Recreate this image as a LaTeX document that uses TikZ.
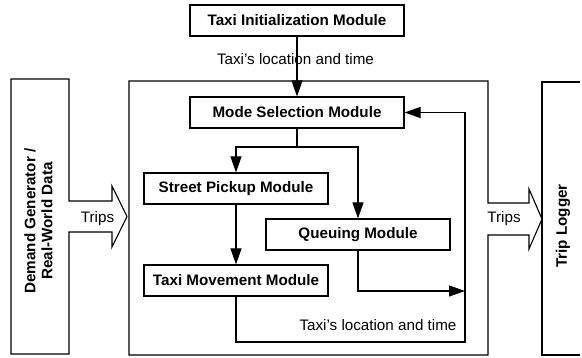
\documentclass[tikz,border=0pt]{standalone}
\usepackage{fontspec}
\setmainfont{Liberation Sans}
\usetikzlibrary{arrows.meta}
\newcommand{\apo}{\char"0027\relax}
\begin{document}
\begin{tikzpicture}[x=1pt,y=-1pt,
  line width=1.1pt,
  every node/.style={font=\fontsize{15.2}{17}\selectfont},
  module/.style={draw, line width=1.1pt, inner sep=0pt, minimum height=31pt, font=\fontsize{15.2}{17}\selectfont\bfseries},
  wide/.style={module, minimum width=214pt},
  narrow/.style={module, minimum width=184pt},
  lbl/.style={inner sep=0pt},
  arr/.style={-{Triangle[length=16pt,width=11pt]}},
  outline/.style={line width=1.1pt, line join=miter}]
\useasboundingbox (0,0) rectangle (582,358);

% modules
\node[wide]   (init)   at (297,20.5)  {Taxi Initialization Module};
\node[wide]   (mode)   at (297,112.5) {Mode Selection Module};
\node[narrow] (street) at (236,188.5) {Street Pickup Module};
\node[narrow] (queue)  at (358,234.5) {Queuing Module};
\node[narrow] (move)   at (236,280.5) {Taxi Movement Module};

% outer shapes
\draw[outline] (69,201) -- (69,79) -- (11,79) -- (11,354) -- (69,354) -- (69,232)
  -- (112,232) -- (112,247) -- (127,216.5) -- (112,186) -- (112,201) -- cycle;
\draw[outline] (488,203) -- (488,81) -- (129,81) -- (129,355) -- (488,355) -- (488,235)
  -- (529,235) -- (529,249) -- (542,219) -- (529,189) -- (529,203) -- cycle;
\draw[outline] (579.5,82) -- (542,82) -- (542,355) -- (579.5,355);

% box texts
\node[rotate=90, align=center, font=\fontsize{15.2}{17}\selectfont\bfseries] (demand) at (38.5,221) {Demand Generator /\\Real-World Data};
\node[rotate=90, font=\fontsize{15.2}{17}\selectfont\bfseries] (logger) at (563,226) {Trip Logger};
\node[lbl] (tripsL) at (97.5,219) {Trips};
\node[lbl] (tripsR) at (504,219) {Trips};

% labels
\node[lbl] (lbltop) at (295.5,59) {Taxi\apo s location and time};
\node[lbl] (lblbot) at (378,325) {Taxi\apo s location and time};

% connectors
\coordinate (split) at (297,147);
\coordinate (qend) at (465,291);
\coordinate (fb) at (465,342);
\draw[arr] (init.south) -- (mode.north);
\draw (mode.south) -- (split);
\draw[arr] (split) -| (street.north);
\draw[arr] (split) -| (queue.north);
\draw[arr] (street.south) -- (move.north);
\draw[arr] (queue.south) |- (qend);
\draw[arr] (move.south) |- (fb) |- (mode.east);
\end{tikzpicture}
\end{document}
